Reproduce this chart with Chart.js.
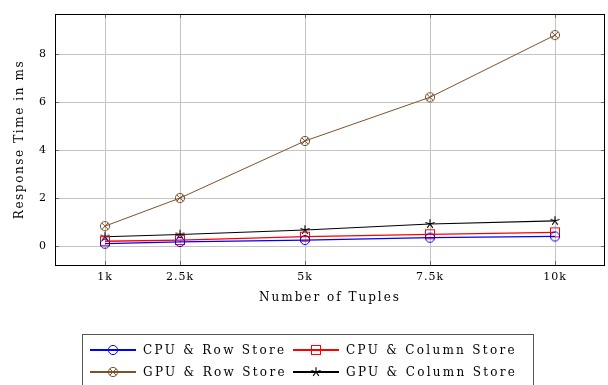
<!DOCTYPE html>
<html>
<head>
<meta charset="utf-8">
<script src="https://cdn.jsdelivr.net/npm/chart.js@4.4.1/dist/chart.umd.min.js"></script>
<style>
html,body{margin:0;padding:0;background:#fff;}
#wrap{position:relative;width:608px;height:385px;}
</style>
</head>
<body>
<div id="wrap"><canvas id="c" width="608" height="385"></canvas></div>
<script>
// ---- data ----
const tuples = [1000, 2500, 5000, 7500, 10000];
const tickLabels = ['1k', '2.5k', '5k', '7.5k', '10k'];
const cpuRow = [0.10, 0.17, 0.25, 0.35, 0.40];
const cpuColumn = [0.20, 0.25, 0.39, 0.49, 0.57];
const gpuRow = [0.83, 2.0, 4.38, 6.20, 8.79];
const gpuColumn = [0.39, 0.48, 0.67, 0.92, 1.05];
const seriesNames = ['CPU & Row Store', 'CPU & Column Store', 'GPU & Row Store', 'GPU & Column Store'];
const yTicks = [0, 2, 4, 6, 8];

const FONT = 'DejaVu Serif';
const BLUE = '#0000ff', RED = '#ff0000', BROWN = '#7d522b', BLACK = '#000000';

function mk(size, draw) {
  const c = document.createElement('canvas');
  c.width = size; c.height = size;
  const g = c.getContext('2d');
  draw(g, size / 2);
  return c;
}
const mCircle = mk(12, (g, m) => { g.strokeStyle = BLUE; g.lineWidth = 1; g.beginPath(); g.arc(m, m, 4.6, 0, Math.PI * 2); g.stroke(); });
const mRect = mk(12, (g, m) => { g.strokeStyle = RED; g.lineWidth = 1; g.strokeRect(m - 4.5, m - 4.5, 9, 9); });
const mOtimes = mk(12, (g, m) => {
  g.strokeStyle = BROWN; g.lineWidth = 1; g.beginPath(); g.arc(m, m, 4.6, 0, Math.PI * 2); g.stroke();
  const d = 3.2; g.beginPath(); g.moveTo(m - d, m - d); g.lineTo(m + d, m + d); g.moveTo(m + d, m - d); g.lineTo(m - d, m + d); g.stroke();
});
const mStar = mk(12, (g, m) => {
  g.strokeStyle = BLACK; g.lineWidth = 1.1; g.beginPath();
  for (let i = 0; i < 5; i++) { const a = -Math.PI / 2 + i * 2 * Math.PI / 5; g.moveTo(m, m); g.lineTo(m + 4.8 * Math.cos(a), m + 4.8 * Math.sin(a)); }
  g.stroke();
});

function ds(label, vals, color, marker, width) {
  return {
    label, data: tuples.map((x, i) => ({ x, y: vals[i] })),
    borderColor: color, backgroundColor: color, borderWidth: width,
    pointStyle: marker, pointRadius: 6, pointHoverRadius: 6, tension: 0, fill: false
  };
}

function spaced(scale, px) {
  const orig = scale.drawTitle;
  if (orig.__w) return;
  const f = function () { const ctx = this.ctx; ctx.save(); ctx.letterSpacing = px; orig.apply(this, arguments); ctx.restore(); };
  f.__w = true;
  scale.drawTitle = f;
  const origL = scale.drawLabels;
  scale.drawLabels = function () { const ctx = this.ctx; ctx.save(); ctx.letterSpacing = '1px'; origL.apply(this, arguments); ctx.restore(); };
}

const frame = {
  id: 'frame',
  afterLayout(chart) { spaced(chart.scales.x, '2px'); spaced(chart.scales.y, '1.6px'); },
  afterDraw(chart) {
    const { ctx, chartArea: a, scales } = chart;
    ctx.save();
    ctx.strokeStyle = '#6a6a6a'; ctx.lineWidth = 1;
    ctx.beginPath();
    tuples.forEach(v => { const x = Math.round(scales.x.getPixelForValue(v)) + 0.5; ctx.moveTo(x, a.bottom); ctx.lineTo(x, a.bottom - 4); ctx.moveTo(x, a.top); ctx.lineTo(x, a.top + 4); });
    yTicks.forEach(v => { const y = Math.round(scales.y.getPixelForValue(v)) + 0.5; ctx.moveTo(a.left, y); ctx.lineTo(a.left + 4, y); ctx.moveTo(a.right, y); ctx.lineTo(a.right - 4, y); });
    ctx.stroke();
    ctx.strokeStyle = '#000'; ctx.lineWidth = 1;
    ctx.strokeRect(Math.round(a.left) + 0.5, Math.round(a.top) + 0.5, Math.round(a.right - a.left) - 1, Math.round(a.bottom - a.top));
    // legend
    ctx.strokeStyle = '#555'; ctx.lineWidth = 1;
    ctx.strokeRect(82.5, 334.5, 451, 60);
    const entries = [
      { x: 90, y: 350, c: BLUE, m: mCircle, w: 2 },
      { x: 293, y: 350, c: RED, m: mRect, w: 2 },
      { x: 90, y: 372, c: BROWN, m: mOtimes, w: 2 },
      { x: 293, y: 372, c: BLACK, m: mStar, w: 2 }
    ];
    ctx.font = '12px "' + FONT + '"';
    ctx.letterSpacing = '2.3px';
    ctx.textBaseline = 'middle'; ctx.textAlign = 'left'; ctx.fillStyle = '#000';
    entries.forEach((e, i) => {
      ctx.strokeStyle = e.c; ctx.lineWidth = e.w;
      ctx.beginPath(); ctx.moveTo(e.x, e.y); ctx.lineTo(e.x + 46, e.y); ctx.stroke();
      ctx.drawImage(e.m, e.x + 23 - 6, e.y - 6);
      ctx.fillText(seriesNames[i], e.x + 53, e.y + 1);
    });
    ctx.restore();
  }
};

new Chart(document.getElementById('c'), {
  type: 'line',
  data: {
    datasets: [
      ds(seriesNames[0], cpuRow, BLUE, mCircle, 1.3),
      ds(seriesNames[1], cpuColumn, RED, mRect, 1.3),
      ds(seriesNames[2], gpuRow, BROWN, mOtimes, 1),
      ds(seriesNames[3], gpuColumn, BLACK, mStar, 1.1)
    ]
  },
  options: {
    responsive: false, animation: false,
    layout: { autoPadding: false, padding: { left: 0, right: 3, top: 14, bottom: 77 } },
    plugins: { legend: { display: false }, tooltip: { enabled: false } },
    scales: {
      x: {
        type: 'linear', min: 0, max: 11000,
        afterBuildTicks: s => { s.ticks = tuples.map(v => ({ value: v })); },
        afterFit: s => { s.height = 43; s.paddingLeft = 0; s.paddingRight = 0; },
        ticks: { callback: (v) => { const i = tuples.indexOf(v); return i >= 0 ? tickLabels[i] : ''; }, color: '#000', font: { family: FONT, size: 11 }, padding: 6, maxRotation: 0, autoSkip: false },
        grid: { color: '#c4c4c4', lineWidth: 1, drawTicks: false },
        border: { display: false },
        title: { display: true, text: 'Number of Tuples', color: '#000', font: { family: FONT, size: 12 }, padding: { top: 0, bottom: 3 } }
      },
      y: {
        type: 'linear', min: -0.79, max: 9.67,
        afterBuildTicks: s => { s.ticks = yTicks.map(v => ({ value: v })); },
        afterFit: s => { s.width = 55; s.paddingTop = 0; s.paddingBottom = 0; },
        ticks: { color: '#000', font: { family: FONT, size: 11 }, padding: 8 },
        grid: { color: '#c4c4c4', lineWidth: 1, drawTicks: false },
        border: { display: false },
        title: { display: true, text: 'Response Time in ms', color: '#000', font: { family: FONT, size: 12 }, padding: { top: 13, bottom: 0 } }
      }
    }
  },
  plugins: [frame]
});
</script>
</body>
</html>
